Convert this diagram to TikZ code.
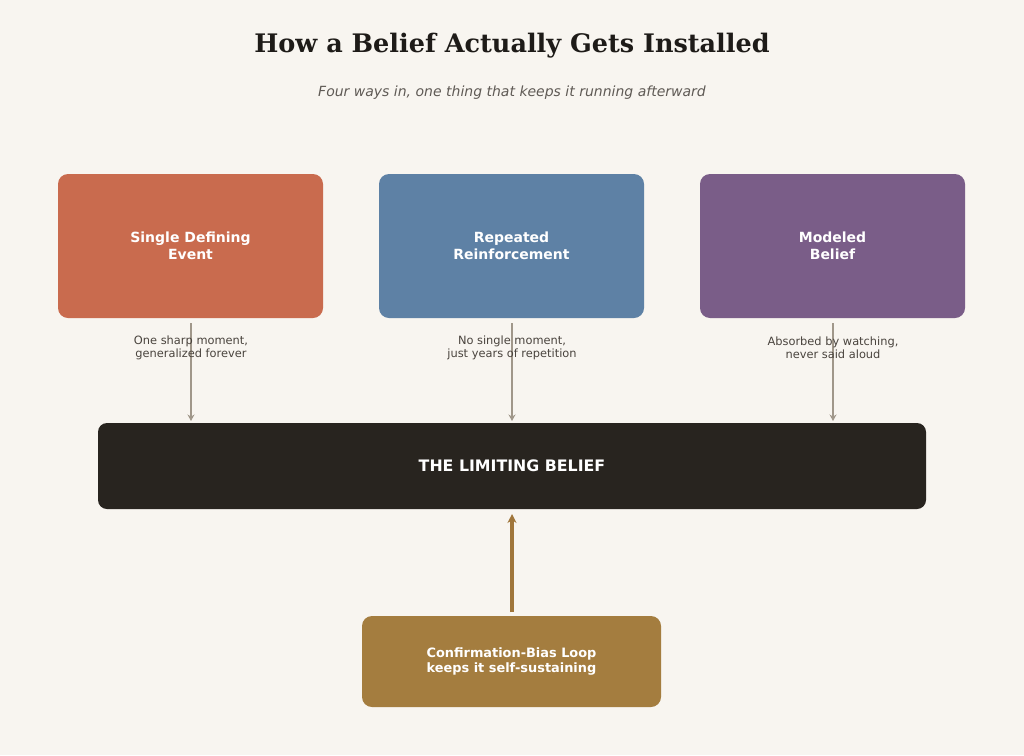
\documentclass[tikz,border=0pt]{standalone}
\usepackage{fontspec}
\setmainfont{DejaVu Sans}
\newfontfamily\titlefont{DejaVu Serif}
\usetikzlibrary{arrows.meta}
\definecolor{bg}{HTML}{F8F5F0}
\definecolor{cRed}{HTML}{C96B4E}
\definecolor{cBlue}{HTML}{5E81A5}
\definecolor{cPurple}{HTML}{7A5D88}
\definecolor{cDark}{HTML}{28241F}
\definecolor{cGold}{HTML}{A47D3F}
\definecolor{cArrow}{HTML}{A0978A}
\definecolor{cGoldArrow}{HTML}{A0763B}
\definecolor{cText}{HTML}{4A443E}
\definecolor{cSub}{HTML}{5F5A55}
\definecolor{cTitle}{HTML}{1E1B18}
\begin{document}
\begin{tikzpicture}[x=1pt,y=-1pt,
  topbox/.style={draw=none,rounded corners=10pt,minimum width=265pt,minimum height=144pt,inner sep=0pt,text=white,font=\fontsize{14}{16.5}\selectfont\bfseries,align=center},
  note/.style={text=cText,font=\fontsize{11.4}{13}\selectfont,align=center,inner sep=0pt},
  feed/.style={draw=cArrow,line width=2.6pt,-{Stealth[length=6.5pt,width=7pt]}},
]
\useasboundingbox[fill=bg] (0,0) rectangle (1024,755);
\node[text=cTitle,font=\titlefont\fontsize{25.5}{30}\selectfont\bfseries] (title) at (512,46) {How a Belief Actually Gets Installed};
\node[text=cSub,font=\fontsize{14}{16}\selectfont\itshape] (sub) at (512,93) {Four ways in, one thing that keeps it running afterward};

\node[topbox,fill=cRed] (b1) at (190.5,246) {Single Defining\\Event};
\node[topbox,fill=cBlue] (b2) at (511.5,246) {Repeated\\Reinforcement};
\node[topbox,fill=cPurple] (b3) at (832.5,246) {Modeled\\Belief};

\node[draw=none,fill=cDark,rounded corners=9pt,minimum width=828pt,minimum height=86pt,inner sep=0pt,text=white,font=\fontsize{15.8}{18}\selectfont\bfseries] (lim) at (512,466) {THE LIMITING BELIEF};

\node[draw=none,fill=cGold,rounded corners=10pt,minimum width=299pt,minimum height=91pt,inner sep=0pt,text=white,font=\fontsize{12.9}{15.5}\selectfont\bfseries,align=center] (loop) at (511.5,661.5) {\raisebox{-1.5pt}{\parbox{200pt}{\centering Confirmation-Bias Loop\\keeps it self-sustaining}}};

\coordinate (s1) at (191,323); \coordinate (e1) at (191,421);
\coordinate (s2) at (512,323); \coordinate (e2) at (512,421);
\coordinate (s3) at (833,323); \coordinate (e3) at (833,421);
\draw[feed] (s1) -- (e1);
\draw[feed] (s2) -- (e2);
\draw[feed] (s3) -- (e3);

\node[note] (n1) at (191,347.5) {One sharp moment,\\generalized forever};
\node[note] (n2) at (512,347.5) {No single moment,\\just years of repetition};
\node[note] (n3) at (833,347.5) {Absorbed by watching,\\never said aloud};

\coordinate (ls) at (512,612); \coordinate (le) at (512,514);
\draw[draw=cGoldArrow,line width=3.2pt,-{Stealth[length=9pt,width=9pt]}] (ls) -- (le);
\end{tikzpicture}
\end{document}
